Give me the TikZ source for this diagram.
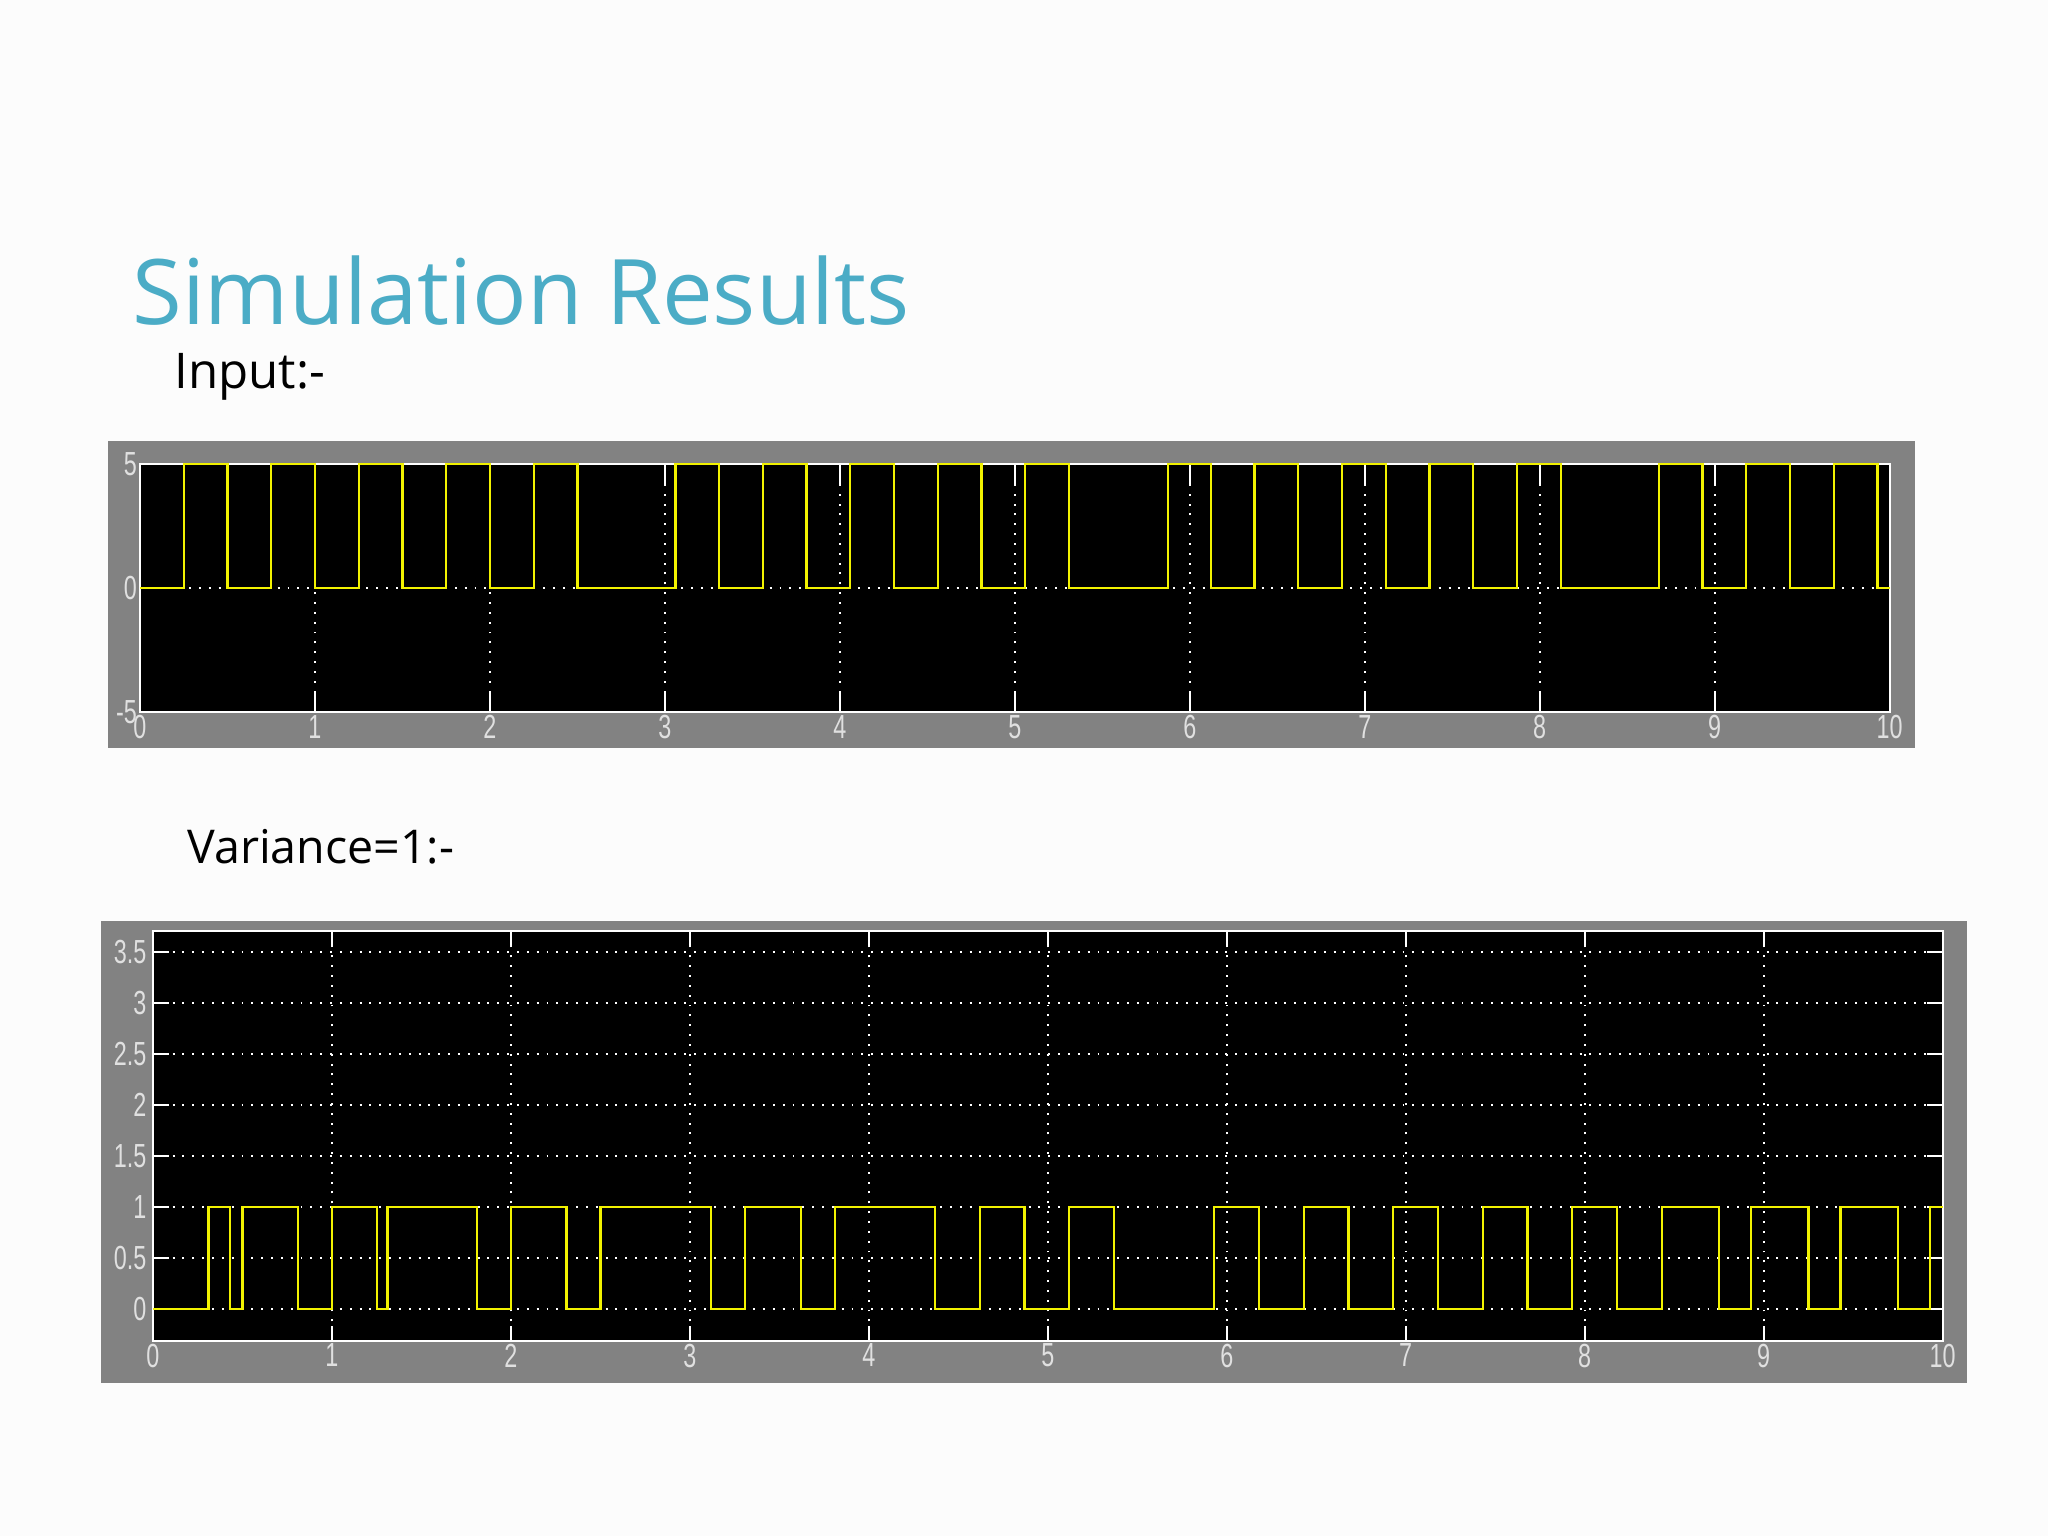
\documentclass[tikz,border=0pt]{standalone}
\usepackage{fontspec}
\setmainfont{Open Sans}
\newfontfamily\tickfont{Liberation Sans}[FakeStretch=0.7]
\definecolor{titleblue}{HTML}{4BACC6}
\definecolor{framegray}{HTML}{828282}
\definecolor{sig}{HTML}{F2F200}
\tikzset{
  gridline/.style={white, line width=1.2pt, dash pattern=on 1.1pt off 4.5pt},
  tickline/.style={white, line width=1.1pt},
  wave/.style={sig, line width=1.3pt},
  ticklab/.style={text=white!88!black, font=\tickfont\fontsize{19}{19}\selectfont, inner sep=1.5pt},
}
\begin{document}
\begin{tikzpicture}[x=0.02cm,y=0.02cm]
\fill[white!99!black] (0,0) rectangle (2048,1536);
\useasboundingbox (0,0) rectangle (2048,1536);
\node[anchor=base west, text=titleblue, font=\fontsize{51.5}{52}\selectfont, inner sep=0] (title) at (132,1211) {Simulation Results};
\node[anchor=base west, font=\fontsize{28}{28}\selectfont, inner sep=0] (inlab) at (174,1147) {Input:-};
\node[anchor=base west, font=\fontsize{26.5}{27}\selectfont, inner sep=0] (varlab) at (187,672) {Variance=1:-};
% top plot frame
\fill[framegray] (108,788) rectangle (1915,1095);
\begin{scope}[shift={(2.8cm,18.96cm)}, x=3.5cm, y=0.496cm]
  \fill[black] (0,-5) rectangle (10,5);
  \foreach \t in {1,...,9} \draw[gridline] (\t,-5) -- (\t,5);
  \draw[gridline] (0,0) -- (10,0);
  \foreach \t in {1,...,9} {\draw[tickline] (\t,-5) -- (\t,-4.2); \draw[tickline] (\t,5) -- (\t,4.2);}
  \draw[white, line width=1.2pt] (0,-5) rectangle (10,5);
  \draw[wave] (0,0) \foreach \t/\a/\b in {0.25/0/5,0.5/5/0,0.75/0/5,1/5/0,1.25/0/5,1.5/5/0,1.75/0/5,2/5/0,2.25/0/5,2.5/5/0,3.06/0/5,3.31/5/0,3.56/0/5,3.81/5/0,4.06/0/5,4.31/5/0,4.56/0/5,4.81/5/0,5.06/0/5,5.31/5/0,5.875/0/5,6.12/5/0,6.37/0/5,6.62/5/0,6.87/0/5,7.12/5/0,7.37/0/5,7.62/5/0,7.87/0/5,8.12/5/0,8.68/0/5,8.93/5/0,9.18/0/5,9.43/5/0,9.68/0/5,9.93/5/0} { -- (\t,\a) -- (\t,\b)} -- (10,0);
  \foreach \v in {5,0,-5} \node[ticklab, anchor=east] (ty\v) at (0,\v) {\v};
  \foreach \t in {0,...,10} \node[ticklab, anchor=north] (tx\t) at (\t,-5) {\t};
\end{scope}
% bottom plot frame
\fill[framegray] (101,153) rectangle (1967,615);
\begin{scope}[shift={(3.06cm,4.54cm)}, x=3.58cm, y=2.042cm]
  \fill[black] (0,-0.313) rectangle (10,3.70);
  \foreach \t in {1,...,9} \draw[gridline] (\t,-0.313) -- (\t,3.70);
  \foreach \v in {0,0.5,...,3.5} \draw[gridline] (0,\v) -- (10,\v);
  \foreach \t in {1,...,9} {\draw[tickline] (\t,-0.313) -- (\t,-0.17); \draw[tickline] (\t,3.70) -- (\t,3.56);}
  \foreach \v in {0,0.5,...,3.5} {\draw[tickline] (0,\v) -- (0.09,\v); \draw[tickline] (10,\v) -- (9.91,\v);}
  \draw[white, line width=1.2pt] (0,-0.313) rectangle (10,3.70);
  \draw[wave] (0,0) \foreach \t/\a/\b in {0.31/0/1,0.43/1/0,0.50/0/1,0.81/1/0,1.0/0/1,1.25/1/0,1.31/0/1,1.81/1/0,2.0/0/1,2.31/1/0,2.50/0/1,3.12/1/0,3.31/0/1,3.62/1/0,3.81/0/1,4.37/1/0,4.62/0/1,4.87/1/0,5.12/0/1,5.37/1/0,5.93/0/1,6.18/1/0,6.43/0/1,6.68/1/0,6.93/0/1,7.18/1/0,7.43/0/1,7.68/1/0,7.93/0/1,8.18/1/0,8.43/0/1,8.75/1/0,8.93/0/1,9.25/1/0,9.43/0/1,9.75/1/0,9.93/0/1} { -- (\t,\a) -- (\t,\b)} -- (10,1);
  \foreach \v/\l in {0/0,0.5/0.5,1/1,1.5/1.5,2/2,2.5/2.5,3/3,3.5/3.5} \node[ticklab, anchor=east] at (-0.02,\v) {\l};
  \foreach \t in {0,...,10} \node[ticklab, anchor=north] (bx\t) at (\t,-0.313) {\t};
\end{scope}
\end{tikzpicture}
\end{document}
